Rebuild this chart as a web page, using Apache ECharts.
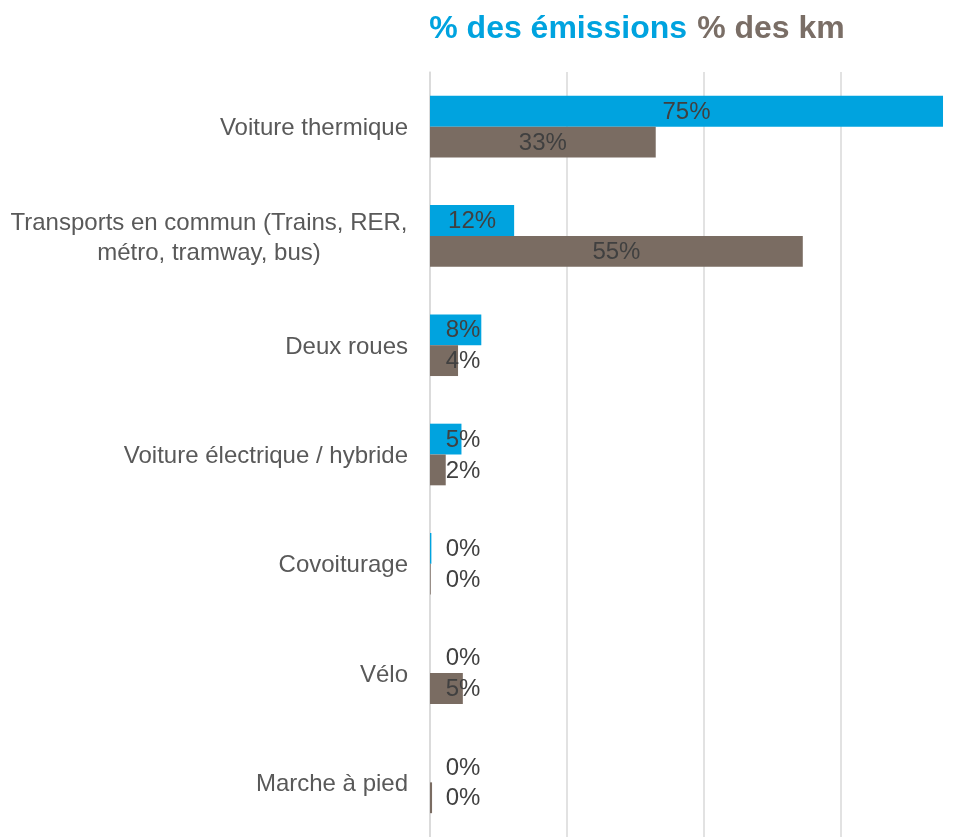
<!DOCTYPE html>
<html>
<head>
<meta charset="utf-8">
<script src="https://cdn.jsdelivr.net/npm/echarts@6/dist/echarts.min.js"></script>
<style>
  html, body { margin: 0; padding: 0; background: #fff; }
  #chart { width: 966px; height: 837px; }
</style>
</head>
<body>
<div id="chart"></div>
<script>
// categories, top to bottom
const categories = [
  'Voiture thermique',
  'Transports en commun (Trains, RER,\nmétro, tramway, bus)',
  'Deux roues',
  'Voiture électrique / hybride',
  'Covoiturage',
  'Vélo',
  'Marche à pied'
]
const emissions = [0.75, 0.123, 0.075, 0.046, 0.002, 0, 0]
const km = [0.33, 0.545, 0.041, 0.023, 0.001, 0.048, 0.003]

const BLUE = '#00A3DF'
const BROWN = '#7A6C62'
const font = 'Liberation Sans, Arial, sans-serif'

const chart = echarts.init(document.getElementById('chart'))

const pct = p => Math.round(p.value * 100) + '%'

// Excel-like: centred in the bar, but never closer than a minimum to the axis
const labelLayout = params => {
  const r = params.rect
  return {
    x: Math.max(r.x + r.width / 2, 463),
    y: r.y + r.height / 2 + 1,
    align: 'center',
    verticalAlign: 'middle'
  }
}

const barLabel = {
  show: true,
  formatter: pct,
  color: '#404040',
  fontSize: 24,
  fontFamily: font
}

chart.setOption({
  animation: false,
  title: {
    text: '{a|% des émissions} {b|% des km}',
    left: 632,
    textAlign: 'center',
    top: 8,
    textStyle: {
      rich: {
        a: { color: BLUE, fontSize: 32, fontWeight: 'bold', fontFamily: font, padding: [0, 5, 0, 0] },
        b: { color: '#7A6E66', fontSize: 32, fontWeight: 'bold', fontFamily: font }
      }
    }
  },
  grid: {
    left: 430,
    right: 0,
    top: 72,
    bottom: -5,
    containLabel: false
  },
  xAxis: {
    type: 'value',
    min: 0,
    // the plot is cut at the right edge of the picture, a little before 80 %
    max: 0.7836,
    interval: 0.2,
    axisLabel: { show: false },
    axisLine: { show: false },
    axisTick: { show: false },
    splitLine: { showMaxLine: false, lineStyle: { color: '#D9D9D9', width: 1.5 } }
  },
  yAxis: {
    type: 'category',
    inverse: true,
    data: categories,
    axisLine: { show: true, lineStyle: { color: '#D9D9D9', width: 1.5 } },
    axisTick: { show: false },
    axisLabel: {
      margin: 22,
      padding: [4, 0, 0, 0],
      color: '#595959',
      fontSize: 24,
      fontFamily: font,
      lineHeight: 30,
      formatter: v => v.indexOf('\n') < 0 ? v :
        v.split('\n').map(s => '{w|' + s + '}').join('\n'),
      rich: {
        w: { width: 398, align: 'center', color: '#595959', fontSize: 24, fontFamily: font, lineHeight: 30 }
      }
    }
  },
  series: [
    {
      name: '% des émissions',
      type: 'bar',
      data: emissions,
      itemStyle: { color: BLUE },
      barGap: '0%',
      barCategoryGap: '43.6%',
      label: barLabel,
      labelLayout: labelLayout
    },
    {
      name: '% des km',
      type: 'bar',
      data: km,
      itemStyle: { color: BROWN },
      barGap: '0%',
      barCategoryGap: '43.6%',
      label: barLabel,
      labelLayout: labelLayout
    }
  ]
})
</script>
</body>
</html>
